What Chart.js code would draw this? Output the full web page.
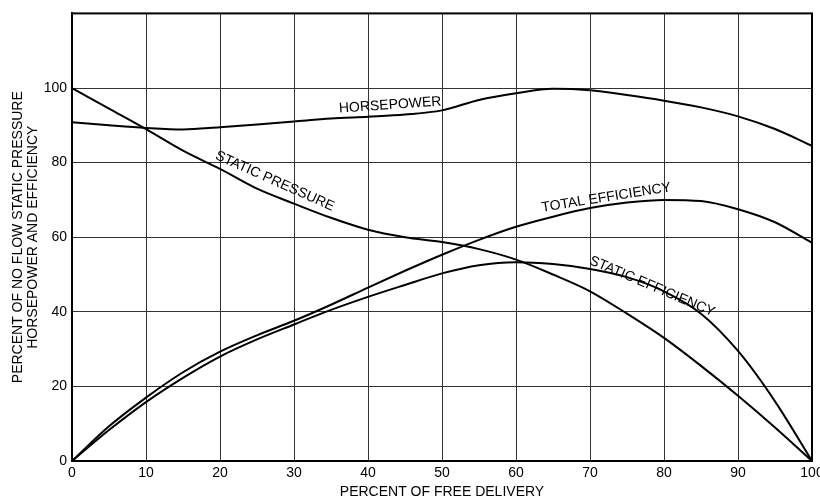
<!DOCTYPE html>
<html>
<head>
<meta charset="utf-8">
<script src="https://cdn.jsdelivr.net/npm/chart.js@4.4.1/dist/chart.umd.min.js"></script>
<style>
  html, body { margin: 0; padding: 0; background: #fff; }
  #wrap { width: 820px; height: 498px; }
</style>
</head>
<body>
<div id="wrap"><canvas id="fanChart" width="820" height="498"></canvas></div>
<script>
const delivery = [0, 5, 10, 15, 20, 25, 30, 35, 40, 45, 50, 55, 60, 65, 70, 75, 80, 85, 90, 95, 100];
const horsepower = [90.8, 90, 89.3, 88.9, 89.5, 90.2, 91, 91.8, 92.3, 92.9, 94, 96.8, 98.6, 99.8, 99.4, 98.1, 96.6, 94.8, 92.4, 89, 84.5];
const staticPressure = [100, 94.5, 89, 83.2, 78.3, 73, 69, 65.2, 62, 60, 58.7, 56.8, 54, 50, 45.5, 39.5, 33, 25.5, 17.5, 9, 0];
const staticEfficiency = [0, 8.3, 15.8, 22.3, 28, 32.6, 36.6, 40.5, 44, 47.2, 50.3, 52.5, 53.3, 52.8, 51.5, 49.3, 45.5, 39.5, 29.5, 16, 0];
const totalEfficiency = [0, 9.3, 17, 23.8, 29.3, 33.7, 37.6, 41.9, 46.5, 51, 55.3, 59.3, 62.8, 65.5, 67.8, 69.3, 70, 69.7, 67.5, 64, 58.5];
const yTicks = [0, 20, 40, 60, 80, 100];

// curve labels, placed in data units and rotated along the curve
const curveLabels = [
    { text: "HORSEPOWER", x: 43, y: 95.4, angle: -4 },
    { text: "STATIC PRESSURE", x: 27.4, y: 75, angle: 24 },
    { text: "TOTAL EFFICIENCY", x: 72.2, y: 70.6, angle: -9 },
    { text: "STATIC EFFICIENCY", x: 78.4, y: 46.8, angle: 23 }
];

const fontFamily = "'Liberation Sans', Arial, Helvetica, sans-serif";

function toPoints(values) {
    return delivery.map((d, i) => ({ x: d, y: values[i] }));
}

function curve(values) {
    return {
        data: toPoints(values),
        borderColor: "#000",
        borderWidth: 2,
        pointRadius: 0,
        fill: false,
        cubicInterpolationMode: "monotone"
    };
}

const labelPlugin = {
    id: "curveLabels",
    afterDatasetsDraw(chart) {
        const ctx = chart.ctx;
        const xs = chart.scales.x;
        const ys = chart.scales.y;
        ctx.save();
        ctx.fillStyle = "#000";
        ctx.font = "14px " + fontFamily;
        ctx.textAlign = "center";
        ctx.textBaseline = "middle";
        curveLabels.forEach(l => {
            ctx.save();
            ctx.translate(xs.getPixelForValue(l.x), ys.getPixelForValue(l.y));
            ctx.rotate(l.angle * Math.PI / 180);
            ctx.fillText(l.text, 0, 0);
            ctx.restore();
        });
        // frame round the plot
        const a = chart.chartArea;
        ctx.strokeStyle = "#000";
        ctx.lineWidth = 2;
        ctx.strokeRect(a.left, a.top, a.right - a.left, a.bottom - a.top);
        ctx.restore();
    }
};

new Chart("fanChart", {
    type: "line",
    data: {
        datasets: [
            curve(horsepower),
            curve(staticPressure),
            curve(totalEfficiency),
            curve(staticEfficiency)
        ]
    },
    options: {
        responsive: false,
        animation: false,
        layout: { padding: { top: 11, right: 8, left: 0, bottom: 0 } },
        plugins: {
            legend: { display: false },
            tooltip: { enabled: false }
        },
        scales: {
            x: {
                type: "linear",
                min: 0,
                max: 100,
                ticks: {
                    stepSize: 10,
                    color: "#000",
                    font: { size: 14, family: fontFamily },
                    padding: 4,
                    maxRotation: 0
                },
                grid: { color: "#333", lineWidth: 1, drawTicks: false },
                border: { color: "#000", width: 2 },
                title: {
                    display: true,
                    text: "PERCENT OF FREE DELIVERY",
                    color: "#000",
                    font: { size: 14, family: fontFamily, lineHeight: 0.85 },
                    padding: { top: 3, bottom: 0 }
                },
                afterFit(scale) {
                    scale.height = 37;
                    scale.paddingLeft = 0;
                    scale.paddingRight = 0;
                }
            },
            y: {
                min: 0,
                max: 120,
                afterBuildTicks(scale) {
                    scale.ticks = yTicks.concat([120]).map(v => ({ value: v }));
                },
                ticks: {
                    color: "#000",
                    font: { size: 14, family: fontFamily },
                    padding: 5,
                    callback: v => (yTicks.includes(v) ? v : "")
                },
                grid: { color: "#333", lineWidth: 1, drawTicks: false },
                border: { color: "#000", width: 2 },
                title: {
                    display: true,
                    text: ["PERCENT OF NO FLOW STATIC PRESSURE", "HORSEPOWER AND EFFICIENCY"],
                    color: "#000",
                    font: { size: 14, family: fontFamily, lineHeight: 1.1 },
                    padding: { top: 10, bottom: 0 }
                },
                afterFit(scale) {
                    scale.width = 72;
                }
            }
        }
    },
    plugins: [labelPlugin]
});
</script>
</body>
</html>
